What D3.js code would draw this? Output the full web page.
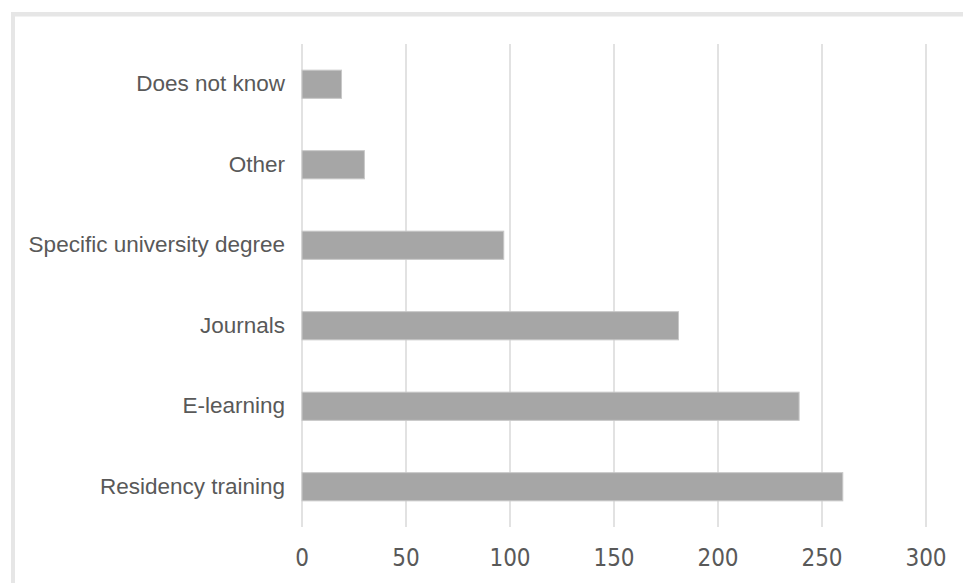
<!DOCTYPE html>
<html><head><meta charset="utf-8">
<script src="https://cdn.jsdelivr.net/npm/d3@7"></script>
<style>html,body{margin:0;padding:0;background:#fff;}</style>
</head><body>
<svg id="chart" width="963" height="583"></svg>
<script>
const categories = ["Does not know","Other","Specific university degree","Journals","E-learning","Residency training"];
const values = [19, 30, 97, 181, 239, 260];
const tickValues = [0, 50, 100, 150, 200, 250, 300];

(function(){
const svg = d3.select("#chart");
// outer frame
svg.append("rect").attr("x",11).attr("y",12).attr("width",960).attr("height",4.5).attr("fill","#e6e6e6");
svg.append("rect").attr("x",11).attr("y",12).attr("width",4).attr("height",580).attr("fill","#e6e6e6");

const pL = 302, pR = 926, pT = 44, pB = 527;
const x = d3.scaleLinear().domain([0,300]).range([pL,pR]);
const y = d3.scaleBand().domain(categories).range([pT,pB]).paddingInner(0.65).paddingOuter(0.325);

const font = "'Liberation Sans', Arial, Helvetica, sans-serif";
const numFont = "'Liberation Sans Narrow', 'Arial Narrow', 'DejaVu Sans Condensed', sans-serif";

// gridlines
svg.append("g").selectAll("line").data(tickValues).join("line")
  .attr("x1",d=>x(d)).attr("x2",d=>x(d)).attr("y1",pT).attr("y2",pB)
  .attr("stroke","#d9d9d9").attr("stroke-width",1.5);

// bars
svg.append("g").selectAll("rect").data(values).join("rect")
  .attr("x",x(0)).attr("y",(d,i)=>y(categories[i]))
  .attr("width",d=>x(d)-x(0)).attr("height",y.bandwidth())
  .attr("fill","#a6a6a6").attr("stroke","#c8c8c8").attr("stroke-width",1);

// category labels
svg.append("g").selectAll("text").data(categories).join("text")
  .attr("x",285).attr("y",d=>y(d)+y.bandwidth()/2 - 1).attr("dy","0.35em")
  .attr("text-anchor","end").attr("font-family",font).attr("font-size",22.5)
  .attr("fill","#595959").text(d=>d);

// tick labels
svg.append("g").selectAll("text").data(tickValues).join("text")
  .attr("x",d=>x(d)).attr("y",558).attr("dy","0.35em")
  .attr("text-anchor","middle").attr("font-family",numFont).attr("font-size",24)
  .attr("fill","#595959").text(d=>d);
})();
</script>
</body></html>
